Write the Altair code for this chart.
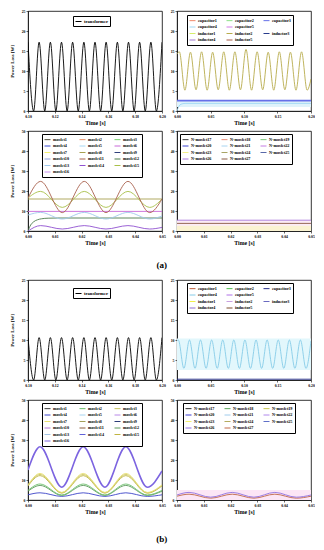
import altair as alt
import pandas as pd

FONT = "Liberation Serif"
PW, PH = 134, 100

# ---------------- data ----------------
# Transformer loss, 0.10-0.20 s (extrema)
TR_T = [0.1000, 0.1042, 0.1083, 0.1125, 0.1167, 0.1208, 0.1250, 0.1292, 0.1333,
        0.1375, 0.1417, 0.1458, 0.1500, 0.1542, 0.1583, 0.1625, 0.1667, 0.1708,
        0.1750, 0.1792, 0.1833, 0.1875, 0.1917, 0.1958, 0.2000]
TR_A = [17.2, 0.0, 17.2, 0.0, 17.2, 0.0, 17.2, 0.0, 17.2, 0.0, 17.2, 0.0, 17.2,
        0.0, 17.2, 0.0, 17.2, 0.0, 17.2, 0.0, 17.2, 0.0, 17.2, 0.0, 17.2]
TR_B = [10.6, 0.0, 10.6, 0.0, 10.6, 0.0, 10.6, 0.0, 10.6, 0.0, 10.6, 0.0, 10.6,
        0.0, 10.6, 0.0, 10.6, 0.0, 10.6, 0.0, 10.6, 0.0, 10.6, 0.0, 10.6]

# Capacitor / inductor (a)
CIA_T = [0.0, 0.0035, 0.0118, 0.0201, 0.0284, 0.0367, 0.0450, 0.0532, 0.0615,
         0.0698, 0.0781, 0.0864, 0.0947, 0.1030, 0.1113, 0.1196, 0.1279, 0.1361,
         0.1444, 0.1527, 0.1610, 0.1693, 0.1776, 0.1859, 0.1942, 0.2000]
CIA_IND2 = [14.2, 14.8, 5.2, 14.7, 5.3, 14.8, 5.2, 14.7, 5.3, 14.8, 5.2, 14.8, 5.3,
            15.4, 5.2, 14.8, 5.3, 14.7, 5.2, 14.8, 5.3, 14.7, 5.2, 14.8, 5.2, 8.0]
CIA_C3_T = [0.0, 0.2]
CIA_C3 = [2.6, 2.6]
CIA_C4_T = [0.0, 0.003, 0.006, 0.012, 0.2]
CIA_C4 = [0.0, 1.2, 1.7, 1.9, 1.9]
CIA_BAND = [1.0, 2.5]

# Capacitor / inductor (b)
CIB_T = [0.0, 0.0020, 0.0103, 0.0186, 0.0269, 0.0351, 0.0434, 0.0517, 0.0600,
         0.0683, 0.0766, 0.0848, 0.0931, 0.1014, 0.1097, 0.1180, 0.1263, 0.1345,
         0.1428, 0.1511, 0.1594, 0.1677, 0.1760, 0.1842, 0.1925, 0.2000]
CIB_C4 = [9.8, 10.0, 2.9, 10.0, 2.9, 10.0, 2.9, 10.0, 2.9, 10.0, 2.9, 10.0, 2.9,
          10.0, 2.9, 10.0, 2.9, 10.0, 2.9, 10.0, 2.9, 10.0, 2.9, 10.0, 2.9, 9.8]
CIB_C3_T = [0.0, 0.2]
CIB_C3 = [0.2, 0.2]
CIB_BAND = [2.5, 10.4]

# MOSFET (a)
MA_T = [0.0, 0.0047, 0.0128, 0.0210, 0.0291, 0.0373, 0.0454, 0.0500]
MA_M11 = [16.5, 24.8, 9.2, 24.8, 9.2, 24.8, 9.2, 16.0]
MA_M15 = [16.5, 19.8, 11.8, 19.8, 11.8, 19.8, 11.8, 16.0]
MA_M13 = [8.0, 9.3, 6.0, 9.3, 6.0, 9.3, 6.0, 7.5]
MA_M14 = [0.0, 2.7, 1.0, 2.7, 1.0, 2.7, 1.0, 1.8]
MA_FLAT_T = [0.0, 0.05]
MA_M8 = [16.0, 16.0]
MA_M6 = [9.8, 9.8]
MA_M12_T = [0.0, 0.001, 0.002, 0.0035, 0.005, 0.0075, 0.011, 0.05]
MA_M12 = [0.0, 3.0, 4.5, 5.6, 6.1, 6.4, 6.5, 6.5]

# N-MOSFET (a)
NA_T = [0.0, 0.05]
NA_N26 = [5.4, 5.4]
NA_N27 = [3.8, 3.8]
NA_BAND1 = [0.0, 5.4]
NA_BAND2 = [0.0, 2.6]

# MOSFET (b)
MB_T = [0.0, 0.0045, 0.0126, 0.0206, 0.0287, 0.0365, 0.0445, 0.0500]
MB_M16 = [15.0, 26.6, 6.4, 26.6, 6.4, 26.6, 6.4, 14.5]
MB_M7 = [7.6, 13.3, 3.8, 13.3, 3.8, 13.3, 3.8, 7.6]
MB_M3 = [7.3, 12.8, 3.6, 12.8, 3.6, 12.8, 3.6, 7.3]
MB_M15 = [7.0, 12.2, 3.4, 12.2, 3.4, 12.2, 3.4, 7.0]
MB_M2 = [4.8, 8.0, 2.5, 8.0, 2.5, 8.0, 2.5, 4.8]
MB_M12 = [4.4, 7.3, 2.3, 7.3, 2.3, 7.3, 2.3, 4.4]
MB_M4 = [2.6, 3.6, 1.8, 3.6, 1.8, 3.6, 1.8, 2.6]

# N-MOSFET (b)
NB_T = [0.0, 0.0045, 0.0126, 0.0206, 0.0287, 0.0365, 0.0445, 0.0500]
NB_N26 = [2.5, 3.8, 1.4, 3.8, 1.4, 3.8, 1.4, 2.5]
NB_N27 = [1.9, 2.9, 0.9, 2.9, 0.9, 2.9, 0.9, 1.9]
NB_BAND = [0.0, 5.0]

# legend names and colours (" " is an empty legend slot)
TR_NAMES = ["transformer"]
TR_COLORS = ["#000000"]
CI_NAMES = ["capacitor1", "capacitor2", "capacitor3", "capacitor4", "capacitor5", " ",
            "inductor1", "inductor2", "inductor3", "inductor4", "inductor5"]
CIA_COLORS = ["#f08a6c", "#8ee08a", "#6670e8", "#9fd8f4", "#d27ae6", "#ffffff",
              "#d6ee6a", "#b8ac4c", "#283c8c", "#a27ad2", "#a85c48"]
CIB_COLORS = ["#c0603c", "#50c050", "#28308c", "#86cce8", "#b070e8", "#ffffff",
              "#f2f04a", "#c8a0e0", "#6a6ac0", "#9070d0", "#7a4a2a"]
M_NAMES = ["mosfet%d" % i for i in range(1, 17)]
MA_COLORS = ["#50503c", "#e8946c", "#78d070", "#3848d0", "#a8d8f4", "#c868d8",
             "#f4f070", "#a8a050", "#30407c", "#90a0dc", "#a8604c", "#4c7c4c",
             "#a0c8ec", "#9050d0", "#a8c048", "#c890f0"]
MB_COLORS = ["#3c3c3c", "#6cc06c", "#c8c460", "#3c44c8", "#a8d4f0", "#b888e8",
             "#e8e070", "#a4a058", "#2c3c78", "#b478d8", "#8c5c3c", "#5c985c",
             "#a4c4e4", "#6060d8", "#c0b440", "#7c64e0"]
N_NAMES = ["N-mosfet%d" % i for i in range(17, 28)]
NA_COLORS = ["#3c3c3c", "#e8907c", "#7cc87c", "#3c44d0", "#a8d4f0", "#c47ce4",
             "#f4f088", "#a8a464", "#5868a8", "#a878dc", "#8a5a44"]
NB_COLORS = ["#2c2c2c", "#60a860", "#c8c850", "#3c3cd0", "#a0ccec", "#b088ec",
             "#f4f070", "#b4ac60", "#6070c8", "#9070e0", "#c06848"]

X_A = [0.10, 0.12, 0.14, 0.16, 0.18, 0.20]
X_B = [0.00, 0.05, 0.10, 0.15, 0.20]
X_C = [0.00, 0.01, 0.02, 0.03, 0.04, 0.05]
Y_25 = [0, 5, 10, 15, 20, 25]
Y_50 = [0, 10, 20, 30, 40, 50]


def to_df(series):
    rows = []
    for name, ts, vs in series:
        for t, v in zip(ts, vs):
            rows.append({"s": name, "t": t, "v": v})
    return pd.DataFrame(rows)


def panel(series, names, colors, xdom, xvals, ydom, yvals, lx, ly, ncol, fsize,
          left, bands=(), thick=()):
    xscale = alt.Scale(domain=xdom, nice=False, zero=False)
    yscale = alt.Scale(domain=ydom, nice=False, zero=False)
    xaxis = alt.Axis(values=xvals, format=".2f", title="Time [s]", labelFlush=False)
    if left:
        yaxis = alt.Axis(values=yvals, format="d", title="Power Loss [W]")
    else:
        yaxis = alt.Axis(values=yvals, format="d", title=None)
    layers = []
    for lo, hi, col in bands:
        bdf = pd.DataFrame({"t": [xdom[0], xdom[1]], "lo": [lo, lo], "hi": [hi, hi]})
        layers.append(
            alt.Chart(bdf).mark_area(clip=True).encode(
                x=alt.X("t:Q", scale=xscale, axis=xaxis),
                y=alt.Y("lo:Q", scale=yscale, axis=yaxis),
                y2="hi:Q",
                color=alt.value(col),
            )
        )
    legend = alt.Legend(
        title=None, orient="none", legendX=lx, legendY=ly, columns=ncol,
        direction="horizontal",
        symbolType="stroke", symbolSize=36, symbolStrokeWidth=1,
        labelFont=FONT, labelFontSize=fsize, labelFontWeight="bold",
        labelColor="black", strokeColor="black", fillColor="white",
        padding=2, rowPadding=0.5, columnPadding=7, labelOffset=2,
    )
    cscale = alt.Scale(domain=names, range=colors)
    thin = [s for s in series if s[0] not in thick]
    fat = [s for s in series if s[0] in thick]
    for group_series, w in ((thin, 0.9), (fat, 1.6)):
        if not group_series:
            continue
        layers.append(
            alt.Chart(to_df(group_series)).mark_line(
                interpolate="monotone", strokeWidth=w, clip=True
            ).encode(
                x=alt.X("t:Q", scale=xscale, axis=xaxis),
                y=alt.Y("v:Q", scale=yscale, axis=yaxis),
                color=alt.Color("s:N", scale=cscale, legend=legend),
                order=alt.Order("t:Q"),
            )
        )
    return alt.layer(*layers).properties(width=PW, height=PH)


p1 = panel([("transformer", TR_T, TR_A)], TR_NAMES, TR_COLORS,
           [0.1, 0.2], X_A, [0, 25], Y_25, 45, 5, 1, 4.6, True)
p2 = panel([("inductor2", CIA_T, CIA_IND2), ("capacitor3", CIA_C3_T, CIA_C3),
            ("capacitor4", CIA_C4_T, CIA_C4)], CI_NAMES, CIA_COLORS,
           [0.0, 0.2], X_B, [0, 25], Y_25, 10, 4, 3, 4.2, False,
           bands=[(CIA_BAND[0], CIA_BAND[1], "#dff3fb")], thick=("capacitor3",))
p3 = panel([("mosfet12", MA_M12_T, MA_M12), ("mosfet14", MA_T, MA_M14),
            ("mosfet13", MA_T, MA_M13), ("mosfet6", MA_FLAT_T, MA_M6),
            ("mosfet8", MA_FLAT_T, MA_M8), ("mosfet15", MA_T, MA_M15),
            ("mosfet11", MA_T, MA_M11)], M_NAMES, MA_COLORS,
           [0.0, 0.05], X_C, [0, 50], Y_50, 14, 3, 3, 4.2, True)
p4 = panel([("N-mosfet26", NA_T, NA_N26), ("N-mosfet27", NA_T, NA_N27)], N_NAMES, NA_COLORS,
           [0.0, 0.05], X_C, [0, 50], Y_50, 3, 3, 3, 4.2, False,
           bands=[(NA_BAND1[0], NA_BAND1[1], "#fcecf6"), (NA_BAND2[0], NA_BAND2[1], "#faf3d2")])
p5 = panel([("transformer", TR_T, TR_B)], TR_NAMES, TR_COLORS,
           [0.1, 0.2], X_A, [0, 25], Y_25, 45, 8, 1, 4.6, True)
p6 = panel([("capacitor4", CIB_T, CIB_C4), ("capacitor3", CIB_C3_T, CIB_C3)], CI_NAMES, CIB_COLORS,
           [0.0, 0.2], X_B, [0, 25], Y_25, 10, 3, 3, 4.2, False,
           bands=[(CIB_BAND[0], CIB_BAND[1], "#e2f7fc")])
p7 = panel([("mosfet4", MB_T, MB_M4), ("mosfet12", MB_T, MB_M12), ("mosfet2", MB_T, MB_M2),
            ("mosfet15", MB_T, MB_M15), ("mosfet3", MB_T, MB_M3), ("mosfet7", MB_T, MB_M7),
            ("mosfet16", MB_T, MB_M16)], M_NAMES, MB_COLORS,
           [0.0, 0.05], X_C, [0, 50], Y_50, 14, 3, 3, 4.2, True,
           thick=("mosfet16",))
p8 = panel([("N-mosfet27", NB_T, NB_N27), ("N-mosfet26", NB_T, NB_N26)], N_NAMES, NB_COLORS,
           [0.0, 0.05], X_C, [0, 50], Y_50, 6, 3, 3, 4.2, False,
           bands=[(NB_BAND[0], NB_BAND[1], "#fce6f6")])


def row(a, b):
    return alt.hconcat(a, b, spacing=3).resolve_scale(color="independent").resolve_legend(color="independent")


def group(r1, r2, label, off):
    return alt.vconcat(
        r1, r2, spacing=2,
        title=alt.TitleParams(label, orient="bottom", anchor="middle", font=FONT,
                              fontSize=9, fontWeight="bold", offset=off, color="black"),
    ).resolve_scale(color="independent").resolve_legend(color="independent")


chart = alt.vconcat(
    group(row(p1, p2), row(p3, p4), "(a)", 15),
    group(row(p5, p6), row(p7, p8), "(b)", 20),
    spacing=7,
).resolve_scale(color="independent").resolve_legend(color="independent").properties(
    padding=0
).configure_view(
    stroke="black", strokeWidth=0.8
).configure_axis(
    labelFont=FONT, labelFontSize=3.8, labelFontWeight="bold", labelColor="black",
    titleFont=FONT, titleFontWeight="bold", titleColor="black",
    tickSize=2, tickColor="black", tickWidth=0.6, domainColor="black", domainWidth=0.6,
    grid=False, labelPadding=1,
).configure_axisX(
    titleFontSize=5.8, titlePadding=2,
).configure_axisY(
    titleFontSize=4.8, titlePadding=7,
)

chart.save("out.html", embed_options={"renderer": "svg", "actions": False})
